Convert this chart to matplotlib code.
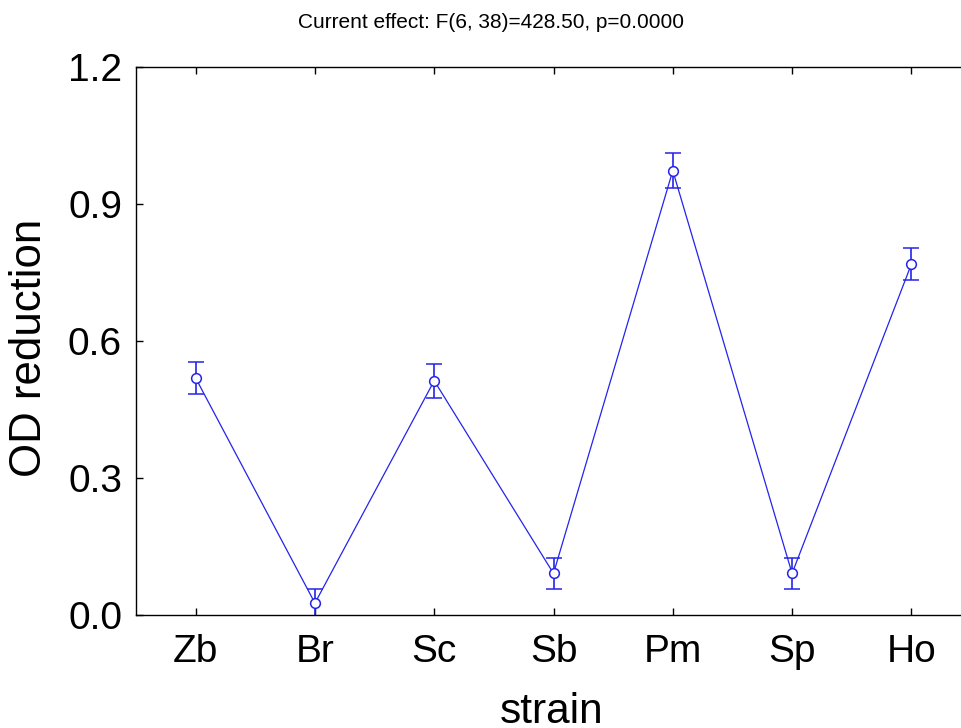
import matplotlib
matplotlib.use("Agg")
import matplotlib.pyplot as plt

plt.rcParams["font.family"] = ["Liberation Sans", "DejaVu Sans"]

strains = ["Zb", "Br", "Sc", "Sb", "Pm", "Sp", "Ho"]
od_reduction = [0.519, 0.026, 0.513, 0.091, 0.973, 0.091, 0.768]
od_error = [0.036, 0.031, 0.037, 0.033, 0.038, 0.033, 0.035]
y_ticks = [0.0, 0.3, 0.6, 0.9, 1.2]

W, H = 961, 728
fig = plt.figure(figsize=(W / 100, H / 100), dpi=100)

# axes run past the right edge of the picture, as in the original
left, right, top, bottom = 136, 971, 67, 615
ax = fig.add_axes([left / W, 1 - bottom / H, (right - left) / W, (bottom - top) / H])

x = list(range(len(strains)))
ax.errorbar(
    x, od_reduction, yerr=od_error,
    color="#2424ea", linewidth=0.9,
    marker="o", markersize=7, markerfacecolor="white",
    markeredgecolor="#2424ea", markeredgewidth=1.1,
    capsize=6, elinewidth=1.2, capthick=1.2
)

ax.set_xlim(-0.5, 6.5)
ax.set_ylim(0, 1.2)
ax.set_xticks(x)
ax.set_xticklabels(strains)
ax.set_yticks(y_ticks)
ax.set_yticklabels([f"{v:.1f}" for v in y_ticks])

ax.tick_params(direction="in", length=5, width=1, labelsize=28,
               top=True, right=True)
ax.tick_params(axis="x", pad=14)
ax.tick_params(axis="y", pad=10)
for s in ax.spines.values():
    s.set_linewidth(1)
    s.set_color("black")

# "strain" is cut by the bottom edge in the original too
ax.set_xlabel("strain", fontsize=30.5)
ax.set_ylabel("OD reduction", fontsize=31.5)
ax.xaxis.set_label_coords((552 - left) / (right - left), -(712 - bottom) / (bottom - top))
ax.yaxis.set_label_coords(-(136 - 30) / (right - left), (bottom - 348) / (bottom - top))
ax.xaxis.label.set_va("center")
ax.yaxis.label.set_va("center")

fig.text(491 / W, 1 - 22 / H, "Current effect: F(6, 38)=428.50, p=0.0000",
         ha="center", va="center", fontsize=15)

fig.savefig("out.png", dpi=100)
